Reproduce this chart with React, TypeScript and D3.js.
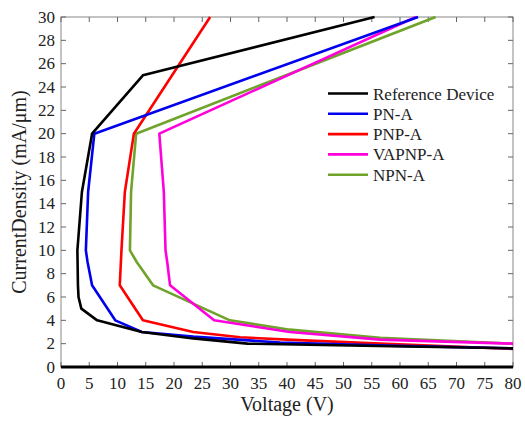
import React, { useEffect, useRef } from "react";
import * as d3 from "d3";

// each series: [voltage, current density]
const refDevice: [number, number][] = [
  [80, 1.6], [56, 1.8], [33, 2.0], [23.4, 2.45], [14.3, 3], [6.4, 4], [3.6, 5],
  [3.1, 6], [3.0, 7], [2.9, 10], [3.7, 15], [5.5, 20], [14.5, 25], [55.5, 30],
];
const pnA: [number, number][] = [
  [80, 1.6], [56, 1.85], [38.8, 2.1], [23.4, 2.6], [14.3, 3], [9.6, 4], [5.5, 7],
  [4.7, 9], [4.4, 10], [4.8, 15], [5.9, 20], [63.2, 30],
];
const pnpA: [number, number][] = [
  [80, 1.55], [56.5, 2.0], [40, 2.35], [31.7, 2.55], [23.4, 3], [14.5, 4],
  [10.4, 7], [10.7, 10], [11.3, 15], [12.9, 20], [26.4, 30],
];
const vapnpA: [number, number][] = [
  [80, 2.0], [56.5, 2.35], [40.5, 3.0], [27.1, 4], [19.3, 7], [18.8, 9],
  [18.5, 10], [18.2, 15], [17.4, 20], [62.8, 30],
];
const npnA: [number, number][] = [
  [80, 2.0], [56.5, 2.5], [40.5, 3.2], [29.9, 4], [16.3, 7], [13.4, 9],
  [12.2, 10], [12.4, 15], [13.3, 20], [66.3, 30],
];

const seriesNames = ["Reference Device", "PN-A", "PNP-A", "VAPNP-A", "NPN-A"];
const seriesColors = ["#000000", "#0000ee", "#ff0000", "#ff00dd", "#6fa32a"];
const seriesData = [refDevice, pnA, pnpA, vapnpA, npnA];
// drawing order (legend order differs)
const drawOrder = [4, 3, 2, 1, 0];

const xTicks = d3.range(0, 81, 5);
const yTicks = d3.range(0, 31, 2);

const FONT = "Liberation Serif, Times New Roman, serif";

const App: React.FC = () => {
  const svgRef = useRef<SVGSVGElement>(null);

  useEffect(() => {
    const width = 525;
    const height = 423;
    const m = { left: 61, right: 12, top: 17, bottom: 56 };

    const svg = d3
      .select(svgRef.current)
      .attr("width", width)
      .attr("height", height)
      .attr("font-family", FONT);
    svg.selectAll("*").remove();

    const x = d3.scaleLinear().domain([0, 80]).range([m.left, width - m.right]);
    const y = d3.scaleLinear().domain([0, 30]).range([height - m.bottom, m.top]);

    const g = svg.append("g");

    // box
    g.append("rect")
      .attr("x", x(0))
      .attr("y", y(30))
      .attr("width", x(80) - x(0))
      .attr("height", y(0) - y(30))
      .attr("fill", "white")
      .attr("stroke", "#888")
      .attr("stroke-width", 1);

    const tl = 5;
    g.selectAll(".xt")
      .data(xTicks)
      .enter()
      .append("path")
      .attr("d", (d) => `M${x(d)},${y(0)}v${-tl}M${x(d)},${y(30)}v${tl}`)
      .attr("stroke", "#666")
      .attr("stroke-width", 1);
    g.selectAll(".yt")
      .data(yTicks)
      .enter()
      .append("path")
      .attr("d", (d) => `M${x(0)},${y(d)}h${tl}M${x(80)},${y(d)}h${-tl}`)
      .attr("stroke", "#666")
      .attr("stroke-width", 1);

    g.selectAll(".xl")
      .data(xTicks)
      .enter()
      .append("text")
      .attr("x", (d) => x(d))
      .attr("y", y(0) + 22)
      .attr("text-anchor", "middle")
      .attr("font-size", 17)
      .attr("fill", "#222")
      .text((d) => d);
    g.selectAll(".yl")
      .data(yTicks)
      .enter()
      .append("text")
      .attr("x", x(0) - 6)
      .attr("y", (d) => y(d) + 5.5)
      .attr("text-anchor", "end")
      .attr("font-size", 17)
      .attr("fill", "#222")
      .text((d) => d);

    g.append("text")
      .attr("x", (x(0) + x(80)) / 2)
      .attr("y", height - 12)
      .attr("text-anchor", "middle")
      .attr("font-size", 20)
      .attr("fill", "#222")
      .text("Voltage (V)");
    g.append("text")
      .attr("transform", `translate(26,${(y(0) + y(30)) / 2}) rotate(-90)`)
      .attr("text-anchor", "middle")
      .attr("font-size", 20)
      .attr("fill", "#222")
      .text("CurrentDensity (mA/\u03bcm)");

    svg
      .append("clipPath")
      .attr("id", "plotclip")
      .append("rect")
      .attr("x", x(0))
      .attr("y", y(30) - 2)
      .attr("width", x(80) - x(0))
      .attr("height", y(0) - y(30) + 2);

    const line = d3
      .line<[number, number]>()
      .x((d) => x(d[0]))
      .y((d) => y(d[1]));

    const plot = g.append("g").attr("clip-path", "url(#plotclip)");
    drawOrder.forEach((i) => {
      plot
        .append("path")
        .attr("d", line(seriesData[i]))
        .attr("fill", "none")
        .attr("stroke", seriesColors[i])
        .attr("stroke-width", 2.6)
        .attr("stroke-linejoin", "round");
    });

    // thick baseline at zero current
    g.append("line")
      .attr("x1", x(0))
      .attr("x2", x(80))
      .attr("y1", y(0))
      .attr("y2", y(0))
      .attr("stroke", "#000")
      .attr("stroke-width", 3);

    // legend
    const lg = g.append("g").attr("transform", "translate(324,82)");
    lg.append("rect").attr("width", 182).attr("height", 104).attr("fill", "white");
    seriesNames.forEach((name, i) => {
      const yy = 11.5 + i * 20.3;
      lg.append("line")
        .attr("x1", 4)
        .attr("x2", 44)
        .attr("y1", yy)
        .attr("y2", yy)
        .attr("stroke", seriesColors[i])
        .attr("stroke-width", 2.6);
      lg.append("text")
        .attr("x", 49)
        .attr("y", yy + 6)
        .attr("font-size", 17)
        .attr("fill", "#222")
        .text(name);
    });
  }, []);

  return (
    <div style={{ position: "absolute", left: 0, top: 0 }}>
      <svg ref={svgRef} />
    </div>
  );
};

export default App;
